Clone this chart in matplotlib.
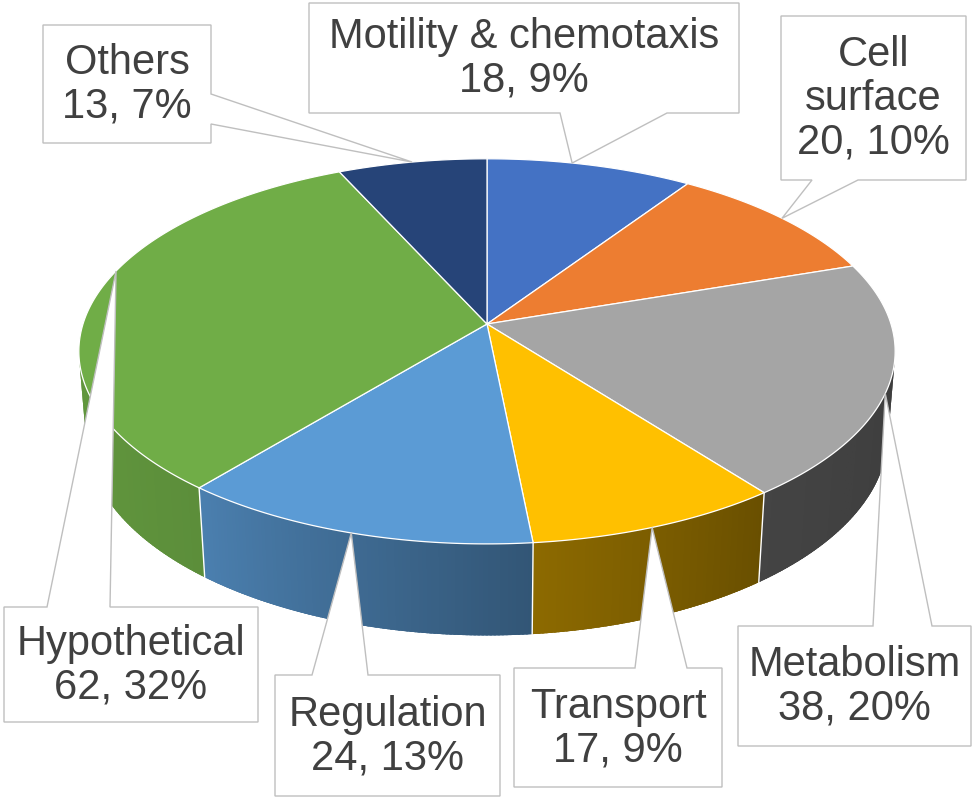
import numpy as np
import matplotlib
matplotlib.use("Agg")
import matplotlib.pyplot as plt
from matplotlib.patches import Polygon

# ---------------- data ----------------
categories = ["Motility & chemotaxis", "Cell surface", "Metabolism", "Transport",
              "Regulation", "Hypothetical", "Others"]
label_names = ["Motility & chemotaxis", "Cell\nsurface", "Metabolism", "Transport",
               "Regulation", "Hypothetical", "Others"]
counts = [18, 20, 38, 17, 24, 62, 13]
colors = ["#4472C4", "#ED7D31", "#A5A5A5", "#FFC000", "#5B9BD5", "#70AD47", "#264478"]

# ---------------- layout / style ----------------
CX, CY = 487.0, 324.0     # pie centre (pixels)
R = 404.0                 # radius
SIN_T = 0.467             # tilt
T = np.arcsin(SIN_T)
CAM = 2515.0              # camera distance (perspective)
H = 95.0                  # thickness

# callout boxes: (x0, y0, x1, y1), wedge side, wedge base (a, b), tip angle offset (deg)
callouts = [
    ((309, 3, 739, 113), "bottom", (560, 667), -3.0),
    ((781, 16, 966, 180), "bottom", (812, 858), 0.0),
    ((738, 626, 971, 746), "top", (873, 932), 3.6),
    ((514, 668, 722, 787), "top", (635, 687), 0.8),
    ((275, 675, 500, 796), "top", (312, 368), 0.0),
    ((4, 607, 258, 722), "top", (47, 110), 9.5),
    ((43, 25, 211, 143), "right", (94, 124), 0.0),
]

# side shading factor as a function of angle (lighting)
shade_theta = [60, 100, 142, 174, 219, 250, 300]
shade_fac = [0.34, 0.37, 0.41, 0.55, 0.82, 0.87, 0.88]


def proj(th_deg, z, r=R):
    th = np.radians(th_deg)
    x = r * np.sin(th)
    y = r * np.cos(th)
    yp = y * np.sin(T) + z * np.cos(T)
    d = -y * np.cos(T) + z * np.sin(T)
    s = CAM / (CAM - d)
    return CX + x * s, CY - yp * s


def shade(color, f):
    rgb = np.array(matplotlib.colors.to_rgb(color))
    return tuple(np.clip(rgb * f, 0, 1))


fig = plt.figure(figsize=(9.75, 8), dpi=100)
ax = fig.add_axes([0, 0, 1, 1])
ax.set_xlim(0, 975)
ax.set_ylim(800, 0)
ax.axis("off")

total = float(sum(counts))
cum = np.concatenate([[0], np.cumsum(counts)]) / total * 360.0

# visible range of the side wall
c = -R / (CAM * np.cos(T))
vis_lo = np.degrees(np.arccos(c))
vis_hi = 360.0 - vis_lo

# ---- side walls ----
STEP = 0.5
for i in range(len(counts)):
    lo = max(cum[i], vis_lo)
    hi = min(cum[i + 1], vis_hi)
    if lo >= hi:
        continue
    n = max(2, int((hi - lo) / STEP) + 1)
    ths = np.linspace(lo, hi, n)
    outline = [proj(t, 0) for t in ths] + [proj(t, -H) for t in ths[::-1]]
    midcol = shade(colors[i], np.interp(0.5 * (lo + hi), shade_theta, shade_fac))
    ax.add_patch(Polygon(outline, closed=True, facecolor=midcol, edgecolor="none", zorder=2))
    for t0, t1 in zip(ths[:-1], ths[1:]):
        t1e = min(t1 + 0.6 * (t1 - t0), hi)
        sub = np.linspace(t0, t1e, 3)
        p = [proj(t, 0) for t in sub] + [proj(t, -H) for t in sub[::-1]]
        col = shade(colors[i], np.interp(0.5 * (t0 + t1), shade_theta, shade_fac))
        ax.add_patch(Polygon(p, closed=True, facecolor=col, edgecolor="none", zorder=2.1))

# seams on the side
for b in cum[1:-1]:
    if vis_lo < b < vis_hi:
        x0, y0 = proj(b, 0)
        x1, y1 = proj(b, -H)
        ax.plot([x0, x1], [y0, y1], color="white", lw=1.0, zorder=3)

# ---- top faces ----
for i in range(len(counts)):
    a0, a1 = cum[i], cum[i + 1]
    n = max(3, int((a1 - a0) / 0.5) + 1)
    ths = np.linspace(a0, a1, n)
    pts = [(CX, CY)] + [proj(t, 0) for t in ths]
    ax.add_patch(Polygon(pts, closed=True, facecolor=colors[i], edgecolor="white",
                         lw=0.9, joinstyle="round", zorder=4))

# ---- callouts ----
for i, (box, side, base, off) in enumerate(callouts):
    x0, y0, x1, y1 = box
    mid = 0.5 * (cum[i] + cum[i + 1]) + off
    tip = proj(mid, 0)
    a, b = base
    if side == "top":
        pts = [(x0, y0), (a, y0), tip, (b, y0), (x1, y0), (x1, y1), (x0, y1)]
    elif side == "bottom":
        pts = [(x0, y0), (x1, y0), (x1, y1), (b, y1), tip, (a, y1), (x0, y1)]
    else:
        pts = [(x0, y0), (x1, y0), (x1, a), tip, (x1, b), (x1, y1), (x0, y1)]
    ax.add_patch(Polygon(pts, closed=True, facecolor="white", edgecolor="#BFBFBF",
                         lw=1.0, joinstyle="miter", zorder=5))
    pct = int(np.floor(100.0 * counts[i] / total + 0.5))
    ax.text(0.5 * (x0 + x1), 0.5 * (y0 + y1) + 1, f"{label_names[i]}\n{counts[i]}, {pct}%",
            ha="center", va="center", multialignment="center", fontsize=30,
            family=["Liberation Sans", "DejaVu Sans"], color="#404040",
            linespacing=1.12, zorder=6)

fig.savefig("out.png", dpi=100, facecolor="white")
